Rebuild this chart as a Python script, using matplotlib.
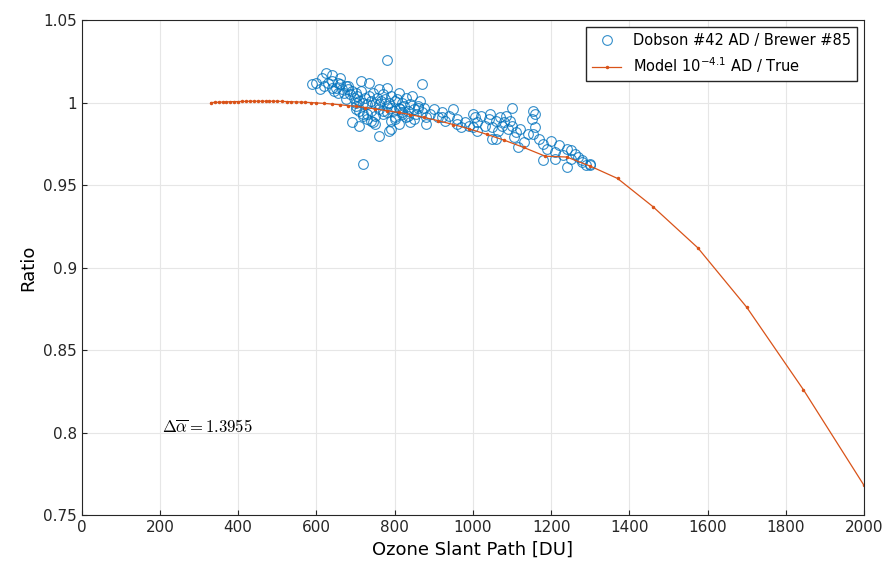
import numpy as np
from matplotlib import pyplot as plt

# measured ratio (Dobson / Brewer) vs ozone slant path
obs_x = [590, 600, 610, 615, 620, 625, 630, 640, 645, 650, 655, 660, 665, 670, 675, 680, 685, 690,
         695, 700, 700, 705, 710, 710, 715, 720, 720, 725, 730, 730, 735, 740, 740, 745, 750, 750,
         755, 760, 760, 765, 770, 770, 775, 780, 780, 785, 790, 790, 795, 800, 800, 805, 810, 810,
         815, 820, 820, 825, 830, 835, 840, 845, 850, 855, 860, 865, 870, 875, 880, 890, 900, 910,
         920, 930, 940, 950, 960, 970, 980, 990, 1000, 1005, 1010, 1020, 1030, 1040, 1045, 1050,
         1060, 1065, 1070, 1075, 1080, 1085, 1090, 1095, 1100, 1105, 1110, 1120, 1130, 1140, 1150,
         1155, 1160, 1170, 1180, 1190, 1200, 1210, 1220, 1230, 1240, 1250, 1260, 1270, 1280, 1290, 1300,
         700, 720, 740, 760, 780, 800, 820, 840, 860, 690, 710, 730, 750, 770, 790, 810, 830, 850,
         640, 660, 680, 720, 780, 715, 735, 760, 785, 870, 1160, 1155, 1100, 1050, 1000, 1210, 1250,
         640, 655, 675, 700, 745, 790, 835, 880, 920, 960, 1010, 1060, 1115, 1180, 1240, 1280, 1300]
obs_y = [1.011, 1.012, 1.008, 1.015, 1.010, 1.018, 1.012, 1.013, 1.007, 1.009, 1.012, 1.011, 1.008, 1.006,
         1.010, 1.008, 1.005, 1.007, 1.003, 1.006, 0.998, 1.004, 1.001, 0.995, 1.007, 1.000, 0.992,
         1.003, 0.999, 0.990, 1.004, 1.001, 0.995, 1.006, 0.999, 0.992, 1.003, 1.008, 0.996, 1.001,
         1.005, 0.993, 1.002, 0.998, 1.009, 1.000, 0.997, 1.004, 0.995, 1.001, 0.991, 1.002, 0.997,
         1.006, 0.996, 1.000, 0.993, 0.998, 1.003, 0.995, 0.999, 1.004, 0.996, 0.993, 0.998, 1.001,
         0.994, 0.997, 0.991, 0.993, 0.996, 0.991, 0.994, 0.989, 0.992, 0.996, 0.990, 0.985, 0.988,
         0.986, 0.985, 0.991, 0.988, 0.992, 0.986, 0.990, 0.993, 0.985, 0.989, 0.983, 0.991, 0.986,
         0.988, 0.992, 0.984, 0.989, 0.986, 0.979, 0.982, 0.984, 0.976, 0.981, 0.990, 0.995, 0.985,
         0.978, 0.975, 0.972, 0.977, 0.970, 0.974, 0.968, 0.972, 0.966, 0.969, 0.967, 0.964, 0.962,
         0.963, 0.996, 0.993, 0.989, 0.999, 0.994, 0.990, 0.994, 0.988, 0.997, 0.988, 0.986, 0.993,
         0.987, 0.995, 0.989, 0.987, 0.991, 0.990, 1.017, 1.015, 1.010, 0.963, 1.026, 1.013, 1.012,
         0.980, 0.983, 1.011, 0.993, 0.981, 0.997, 0.978, 0.993, 0.966, 0.971, 1.009, 1.006, 1.002,
         1.000, 0.988, 0.984, 0.992, 0.987, 0.991, 0.987, 0.983, 0.978, 0.973, 0.965, 0.961, 0.965, 0.962]

# model curve, non-uniform sample spacing as in the reference
model_x = [330, 340, 350, 360, 370, 380, 390, 400, 410, 420, 430, 440, 450, 460, 470, 480, 490, 500,
           512, 524, 536, 548, 560, 572, 585, 600, 620, 640, 660, 680, 700, 725, 750, 780, 810, 840,
           875, 910, 950, 990, 1035, 1080, 1130, 1185, 1240, 1300, 1370, 1460, 1575, 1700, 1845, 2000]
model_y = [1.0000, 1.0001, 1.0002, 1.0003, 1.0004, 1.0005, 1.0006, 1.0006, 1.0007, 1.0007, 1.0008,
           1.0008, 1.0008, 1.0008, 1.0008, 1.0008, 1.0008, 1.0008, 1.0007, 1.0006, 1.0005, 1.0004,
           1.0003, 1.0002, 1.0000, 0.9998, 0.9995, 0.9991, 0.9987, 0.9982, 0.9977, 0.9970, 0.9962,
           0.9951, 0.9940, 0.9927, 0.9910, 0.9891, 0.9867, 0.9841, 0.9808, 0.9772, 0.9728, 0.9675,
           0.9670, 0.9615, 0.9540, 0.9370, 0.9120, 0.8760, 0.8260, 0.7680]

fig = plt.figure(figsize=(8.88, 5.73), dpi=100)
ax = fig.add_axes([0.092, 0.101, 0.881, 0.864])
ax.plot(obs_x, obs_y, 'o', mfc='none', mec='#0072BD', ms=7, mew=0.8, alpha=0.8,
        label='Dobson #42 AD / Brewer #85')
ax.plot(model_x, model_y, '-', color='#D95319', lw=0.9, marker='.', ms=3,
        label='Model 10$^{-4.1}$ AD / True')
ax.set_xlim(0, 2000)
ax.set_ylim(0.75, 1.05)
ax.set_xticks(np.arange(0, 2001, 200))
ax.set_yticks([0.75, 0.8, 0.85, 0.9, 0.95, 1.0, 1.05])
ax.set_yticklabels(['0.75', '0.8', '0.85', '0.9', '0.95', '1', '1.05'])
ax.grid(True, color='#e6e6e6', lw=0.8)
ax.tick_params(direction='in', labelsize=11, colors='#262626')
for s in ax.spines.values():
    s.set_color('#262626')
ax.set_xlabel('Ozone Slant Path [DU]', fontsize=13)
ax.set_ylabel('Ratio', fontsize=13)
ax.text(205, 0.80, r'$\Delta\overline{\alpha} = 1.3955$', fontsize=12, math_fontfamily='cm')
ax.legend(loc='upper right', fontsize=10.5, fancybox=False, edgecolor='#262626', framealpha=1)
fig.savefig('out.png', dpi=100)
